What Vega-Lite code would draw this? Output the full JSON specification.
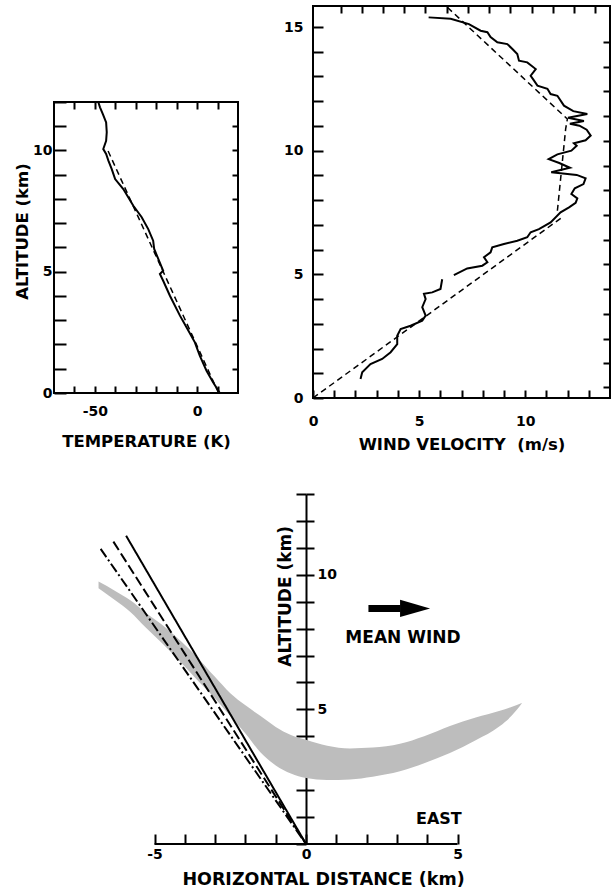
{
  "$schema": "https://vega.github.io/schema/vega-lite/v6.json",
  "background": "white",
  "padding": {"left": 14, "top": 3, "right": 0, "bottom": 0},
  "config": {
    "font": "DejaVu Sans",
    "view": {"stroke": "black", "strokeWidth": 2},
    "axis": {
      "grid": false,
      "labelFont": "DejaVu Sans",
      "labelFontWeight": "bold",
      "labelFontSize": 14,
      "labelColor": "black",
      "titleFont": "DejaVu Sans",
      "titleFontWeight": "bold",
      "titleFontSize": 16.5,
      "titleColor": "black",
      "tickColor": "black",
      "tickWidth": 2,
      "domainColor": "black",
      "domainWidth": 2,
      "labelFlush": false,
      "labelOverlap": false,
      "labelBound": false
    }
  },
  "datasets": {
    "temp": [
      {"T": 11.1, "z": 0}, {"T": 7.8, "z": 0.44}, {"T": 4.6, "z": 0.92}, {"T": 1.3, "z": 1.54},
      {"T": -1.1, "z": 2.09}, {"T": -5.2, "z": 2.71}, {"T": -8.4, "z": 3.19}, {"T": -13.3, "z": 4.01},
      {"T": -16.6, "z": 4.63}, {"T": -18.2, "z": 4.91}, {"T": -16.6, "z": 5.04}, {"T": -19.0, "z": 5.53},
      {"T": -21.0, "z": 5.94}, {"T": -21.5, "z": 6.28}, {"T": -23.9, "z": 6.76}, {"T": -27.1, "z": 7.25},
      {"T": -31.2, "z": 7.72}, {"T": -36.1, "z": 8.41}, {"T": -40.1, "z": 8.82}, {"T": -41.8, "z": 9.24},
      {"T": -43.4, "z": 9.58}, {"T": -44.5, "z": 9.86}, {"T": -45.9, "z": 10.06}, {"T": -44.5, "z": 10.4},
      {"T": -44.2, "z": 10.75}, {"T": -44.5, "z": 11.16}, {"T": -46.1, "z": 11.5}, {"T": -47.5, "z": 11.78},
      {"T": -48.3, "z": 11.99}
    ],
    "tempFit": [
      {"T": 10.5, "z": 0}, {"T": -44.2, "z": 10.1}
    ],
    "wind": [
      {"seg": "a", "u": 2.24, "z": 0.77}, {"seg": "a", "u": 2.32, "z": 1.04}, {"seg": "a", "u": 2.71, "z": 1.37},
      {"seg": "a", "u": 3.26, "z": 1.58}, {"seg": "a", "u": 3.66, "z": 1.85}, {"seg": "a", "u": 3.97, "z": 2.18},
      {"seg": "a", "u": 3.97, "z": 2.52}, {"seg": "a", "u": 4.13, "z": 2.79}, {"seg": "a", "u": 4.6, "z": 2.92},
      {"seg": "a", "u": 5.15, "z": 3.13}, {"seg": "a", "u": 5.31, "z": 3.33}, {"seg": "a", "u": 5.15, "z": 3.67},
      {"seg": "a", "u": 5.31, "z": 4.0}, {"seg": "a", "u": 5.23, "z": 4.21}, {"seg": "a", "u": 5.62, "z": 4.27},
      {"seg": "a", "u": 6.01, "z": 4.41}, {"seg": "a", "u": 6.09, "z": 4.8},
      {"seg": "b", "u": 6.64, "z": 4.97}, {"seg": "b", "u": 7.27, "z": 5.24}, {"seg": "b", "u": 7.98, "z": 5.35},
      {"seg": "b", "u": 8.22, "z": 5.49}, {"seg": "b", "u": 8.06, "z": 5.69}, {"seg": "b", "u": 8.37, "z": 5.89},
      {"seg": "b", "u": 8.45, "z": 6.09}, {"seg": "b", "u": 9.0, "z": 6.23}, {"seg": "b", "u": 9.63, "z": 6.36},
      {"seg": "b", "u": 10.1, "z": 6.5}, {"seg": "b", "u": 10.26, "z": 6.7}, {"seg": "b", "u": 10.65, "z": 6.83},
      {"seg": "b", "u": 11.2, "z": 7.1}, {"seg": "b", "u": 11.67, "z": 7.51}, {"seg": "b", "u": 12.07, "z": 7.71},
      {"seg": "b", "u": 12.38, "z": 7.89}, {"seg": "b", "u": 12.46, "z": 8.07}, {"seg": "b", "u": 12.18, "z": 8.25},
      {"seg": "b", "u": 12.34, "z": 8.48}, {"seg": "b", "u": 12.75, "z": 8.65}, {"seg": "b", "u": 12.85, "z": 8.88},
      {"seg": "b", "u": 12.43, "z": 9.02}, {"seg": "b", "u": 11.23, "z": 9.13}, {"seg": "b", "u": 12.11, "z": 9.31},
      {"seg": "b", "u": 11.61, "z": 9.5}, {"seg": "b", "u": 11.11, "z": 9.66}, {"seg": "b", "u": 11.52, "z": 9.85},
      {"seg": "b", "u": 12.18, "z": 10.0}, {"seg": "b", "u": 12.43, "z": 10.2}, {"seg": "b", "u": 12.3, "z": 10.3},
      {"seg": "b", "u": 12.85, "z": 10.42}, {"seg": "b", "u": 13.09, "z": 10.61}, {"seg": "b", "u": 12.9, "z": 10.85},
      {"seg": "b", "u": 12.56, "z": 11.01}, {"seg": "b", "u": 12.11, "z": 11.09}, {"seg": "b", "u": 12.77, "z": 11.2},
      {"seg": "b", "u": 12.02, "z": 11.33}, {"seg": "b", "u": 12.93, "z": 11.48}, {"seg": "b", "u": 12.27, "z": 11.6},
      {"seg": "b", "u": 11.83, "z": 11.82}, {"seg": "b", "u": 11.52, "z": 12.22}, {"seg": "b", "u": 11.2, "z": 12.29},
      {"seg": "b", "u": 11.05, "z": 12.5}, {"seg": "b", "u": 10.58, "z": 12.63}, {"seg": "b", "u": 10.42, "z": 12.83},
      {"seg": "b", "u": 10.26, "z": 13.03}, {"seg": "b", "u": 10.5, "z": 13.3}, {"seg": "b", "u": 10.1, "z": 13.57},
      {"seg": "b", "u": 9.71, "z": 13.64}, {"seg": "b", "u": 9.63, "z": 13.91}, {"seg": "b", "u": 9.4, "z": 14.11},
      {"seg": "b", "u": 9.16, "z": 14.31}, {"seg": "b", "u": 8.69, "z": 14.38}, {"seg": "b", "u": 8.37, "z": 14.59},
      {"seg": "b", "u": 8.22, "z": 14.79}, {"seg": "b", "u": 7.9, "z": 14.85}, {"seg": "b", "u": 7.35, "z": 15.12},
      {"seg": "b", "u": 6.49, "z": 15.33}, {"seg": "b", "u": 5.45, "z": 15.39}
    ],
    "windFit": [
      {"piece": "low", "u": 0, "z": 0}, {"piece": "low", "u": 11.75, "z": 7.31},
      {"piece": "high", "u": 11.52, "z": 7.57}, {"piece": "high", "u": 11.91, "z": 10.88},
      {"piece": "high", "u": 11.99, "z": 11.28}, {"piece": "high", "u": 6.33, "z": 15.8}
    ],
    "band": [
      {"x": -6.85, "top": 9.75, "bot": 9.5}, {"x": -6.3, "top": 9.4, "bot": 9.05},
      {"x": -5.8, "top": 9.05, "bot": 8.62}, {"x": -5.3, "top": 8.6, "bot": 8.05},
      {"x": -4.7, "top": 8.1, "bot": 7.4}, {"x": -4.1, "top": 7.5, "bot": 6.7},
      {"x": -3.6, "top": 6.95, "bot": 6.1}, {"x": -3.0, "top": 6.2, "bot": 5.4},
      {"x": -2.5, "top": 5.6, "bot": 4.75}, {"x": -2.0, "top": 5.15, "bot": 4.1},
      {"x": -1.5, "top": 4.75, "bot": 3.4}, {"x": -1.0, "top": 4.35, "bot": 2.92},
      {"x": -0.5, "top": 4.05, "bot": 2.62}, {"x": 0, "top": 3.87, "bot": 2.45},
      {"x": 0.7, "top": 3.65, "bot": 2.38}, {"x": 1.45, "top": 3.55, "bot": 2.4},
      {"x": 2.2, "top": 3.58, "bot": 2.5}, {"x": 3.1, "top": 3.72, "bot": 2.7},
      {"x": 3.9, "top": 4.0, "bot": 3.0}, {"x": 4.75, "top": 4.38, "bot": 3.38},
      {"x": 5.6, "top": 4.7, "bot": 3.85}, {"x": 6.4, "top": 4.95, "bot": 4.38},
      {"x": 6.8, "top": 5.1, "bot": 4.78}, {"x": 7.12, "top": 5.24, "bot": 5.22}
    ],
    "rays": [
      {"ray": "solid", "x": 0, "y": 0}, {"ray": "solid", "x": -5.94, "y": 11.45},
      {"ray": "dashed", "x": 0, "y": 0}, {"ray": "dashed", "x": -6.36, "y": 11.23},
      {"ray": "dashdot", "x": 0, "y": 0}, {"ray": "dashdot", "x": -6.78, "y": 10.96}
    ]
  },
  "spacing": 33,
  "vconcat": [
    {
      "bounds": "flush",
      "spacing": 75,
      "hconcat": [
        {
          "width": 184,
          "height": 387,
          "view": {"stroke": null},
          "layer": [
            {
              "data": {"name": "temp"},
              "mark": {"type": "line", "color": "black", "strokeWidth": 2},
              "encoding": {
                "x": {
                  "field": "T", "type": "quantitative",
                  "scale": {"domain": [-70, 20], "nice": false, "zero": false},
                  "axis": {
                    "orient": "bottom", "domain": false,
                    "values": [-60, -50, -40, -30, -20, -10, 0, 10],
                    "labelExpr": "datum.value == -50 || datum.value == 0 ? replace(datum.label, '−', '-') : ''",
                    "tickSize": -7, "labelPadding": 18,
                    "title": "TEMPERATURE (K)", "titlePadding": 15
                  }
                },
                "y": {
                  "field": "z", "type": "quantitative",
                  "scale": {"domain": [0, 15.958], "nice": false},
                  "axis": {
                    "orient": "left", "domain": false,
                    "values": [0, 1, 2, 3, 4, 5, 6, 7, 8, 9, 10, 11, 12],
                    "labelExpr": "datum.value % 5 == 0 ? datum.label : ''",
                    "tickSize": -12, "labelPadding": 14,
                    "title": "ALTITUDE (km)", "titlePadding": 2, "titleY": 225
                  }
                },
                "order": {"value": null}
              }
            },
            {
              "data": {"name": "tempFit"},
              "mark": {"type": "line", "color": "black", "strokeWidth": 1.5, "strokeDash": [6, 4]},
              "encoding": {
                "x": {
                  "field": "T", "type": "quantitative",
                  "axis": {
                    "orient": "top", "domain": false, "labels": false, "title": null,
                    "values": [-60, -50, -40, -30, -20, -10, 0, 10], "tickSize": -7, "offset": -96
                  }
                },
                "y": {
                  "field": "z", "type": "quantitative",
                  "axis": {
                    "orient": "right", "domain": false, "labels": false, "title": null,
                    "values": [1, 2, 3, 4, 5, 6, 7, 8, 9, 10, 11], "tickSize": -6
                  }
                },
                "order": {"value": null}
              }
            },
            {
              "data": {"values": [{}]},
              "mark": {"type": "rect", "filled": false, "color": "black", "strokeWidth": 2},
              "encoding": {
                "x": {"datum": -70, "type": "quantitative", "axis": null},
                "x2": {"datum": 20},
                "y": {"datum": 0, "type": "quantitative", "axis": null},
                "y2": {"datum": 12}
              }
            }
          ],
          "resolve": {"axis": {"x": "independent", "y": "independent"}}
        },
        {
          "width": 297,
          "height": 392,
          "layer": [
            {
              "data": {"name": "wind"},
              "mark": {"type": "line", "color": "black", "strokeWidth": 2},
              "encoding": {
                "x": {
                  "field": "u", "type": "quantitative",
                  "scale": {"domain": [0, 14], "nice": false},
                  "axis": {
                    "orient": "bottom", "domain": false,
                    "values": [0, 1, 2, 3, 4, 5, 6, 7, 8, 9, 10, 11, 12, 13],
                    "labelExpr": "datum.value % 5 == 0 ? datum.label : ''",
                    "tickSize": -8, "labelPadding": 24,
                    "title": "WIND VELOCITY\u00a0 (m/s)", "titlePadding": 8
                  }
                },
                "y": {
                  "field": "z", "type": "quantitative",
                  "scale": {"domain": [0, 15.85], "nice": false},
                  "axis": {
                    "orient": "left", "domain": false,
                    "values": [0, 1, 2, 3, 4, 5, 6, 7, 8, 9, 10, 11, 12, 13, 14, 15],
                    "labelExpr": "datum.value % 5 == 0 ? datum.label : ''",
                    "tickSize": -10, "labelPadding": 20, "title": null
                  }
                },
                "detail": {"field": "seg"},
                "order": {"value": null}
              }
            },
            {
              "data": {"name": "windFit"},
              "mark": {"type": "line", "color": "black", "strokeWidth": 1.5, "strokeDash": [6, 4]},
              "encoding": {
                "x": {
                  "field": "u", "type": "quantitative",
                  "axis": {
                    "orient": "top", "domain": false, "labels": false, "title": null,
                    "values": [1.3, 2.3, 3.3, 4.3, 5.3, 6.3, 7.3, 8.3, 9.3, 10.3, 11.3, 12.3, 13.3],
                    "tickSize": -7
                  }
                },
                "y": {
                  "field": "z", "type": "quantitative",
                  "axis": {
                    "orient": "right", "domain": false, "labels": false, "title": null,
                    "values": [0.45, 1.4, 2.4, 3.4, 4.4, 5.4, 6.4, 7.4, 8.4, 9.4, 10.4, 11.4, 12.4, 13.4, 14.4],
                    "tickSize": -7
                  }
                },
                "detail": {"field": "piece"},
                "order": {"value": null}
              }
            }
          ],
          "resolve": {"axis": {"x": "independent", "y": "independent"}}
        }
      ]
    },
    {
      "width": 538,
      "height": 350,
      "view": {"stroke": null},
      "layer": [
        {
          "data": {"name": "band"},
          "mark": {"type": "area", "color": "#bdbdbd", "interpolate": "monotone"},
          "encoding": {
            "x": {
              "field": "x", "type": "quantitative",
              "scale": {"domain": [-8.32, 9.44], "nice": false, "zero": false},
              "axis": {
                "orient": "bottom", "domain": false,
                "values": [-5, -4, -3, -2, -1, 0, 1, 2, 3, 4, 5],
                "labelExpr": "datum.value % 5 == 0 ? replace(datum.label, '−', '-') : ''",
                "tickSize": -10, "labelPadding": 13,
                "title": "HORIZONTAL DISTANCE (km)", "titleFontSize": 17.5, "titlePadding": 9
              }
            },
            "y": {
              "field": "top", "type": "quantitative",
              "scale": {"domain": [0, 13], "nice": false},
              "axis": {
                "orient": "left", "offset": -252, "domain": true, "labels": false, "title": null,
                "values": [0, 1, 2, 3, 4, 5, 6, 7, 8, 9, 10, 11, 12, 13], "tickSize": 10
              }
            },
            "y2": {"field": "bot"}
          }
        },
        {
          "data": {"name": "rays"},
          "mark": {"type": "line", "color": "black", "strokeWidth": 2},
          "encoding": {
            "x": {"field": "x", "type": "quantitative", "axis": null},
            "y": {
              "field": "y", "type": "quantitative",
              "axis": {
                "orient": "right", "offset": -286, "domain": false, "title": null,
                "values": [1, 2, 3, 4, 5, 6, 7, 8, 9, 10, 11, 12, 13],
                "labelExpr": "datum.value == 5 || datum.value == 10 ? datum.label : ''",
                "tickSize": 8, "labelPadding": 3
              }
            },
            "detail": {"field": "ray"},
            "strokeDash": {
              "field": "ray", "type": "nominal", "legend": null,
              "scale": {"domain": ["solid", "dashed", "dashdot"], "range": [[1, 0], [10, 4], [10, 3, 2, 3]]}
            }
          }
        },
        {
          "data": {"values": [{}]},
          "mark": {"type": "rule", "color": "black", "strokeWidth": 2},
          "encoding": {
            "x": {"datum": -5, "type": "quantitative", "axis": null},
            "x2": {"datum": 5},
            "y": {"datum": 0, "type": "quantitative", "axis": null}
          }
        },
        {
          "data": {"values": [{}]},
          "mark": {"type": "rule", "color": "black", "strokeWidth": 7},
          "encoding": {
            "x": {"datum": 2.06, "type": "quantitative", "axis": null},
            "x2": {"datum": 3.12},
            "y": {"datum": 8.75, "type": "quantitative", "axis": null}
          }
        },
        {
          "data": {"values": [{}]},
          "mark": {"type": "point", "shape": "M -1 -0.57 L 1 0 L -1 0.57 Z", "filled": true, "color": "black", "opacity": 1, "size": 900},
          "encoding": {
            "x": {"datum": 3.6, "type": "quantitative", "axis": null},
            "y": {"datum": 8.75, "type": "quantitative", "axis": null}
          }
        },
        {
          "data": {"values": [{}]},
          "mark": {"type": "text", "font": "DejaVu Sans", "fontWeight": "bold", "fontSize": 17, "color": "black", "align": "center", "baseline": "middle"},
          "encoding": {
            "x": {"datum": 3.2, "type": "quantitative", "axis": null},
            "y": {"datum": 7.67, "type": "quantitative", "axis": null},
            "text": {"value": "MEAN WIND"}
          }
        },
        {
          "data": {"values": [{}]},
          "mark": {"type": "text", "font": "DejaVu Sans", "fontWeight": "bold", "fontSize": 16, "color": "black", "align": "right", "baseline": "middle"},
          "encoding": {
            "x": {"datum": 5.14, "type": "quantitative", "axis": null},
            "y": {"datum": 0.93, "type": "quantitative", "axis": null},
            "text": {"value": "EAST"}
          }
        },
        {
          "data": {"values": [{}]},
          "mark": {"type": "text", "font": "DejaVu Sans", "fontWeight": "bold", "fontSize": 17, "color": "black", "align": "center", "baseline": "middle", "angle": 270},
          "encoding": {
            "x": {"datum": -0.66, "type": "quantitative", "axis": null},
            "y": {"datum": 9.2, "type": "quantitative", "axis": null},
            "text": {"value": "ALTITUDE (km)"}
          }
        }
      ],
      "resolve": {"axis": {"x": "independent", "y": "independent"}}
    }
  ]
}
